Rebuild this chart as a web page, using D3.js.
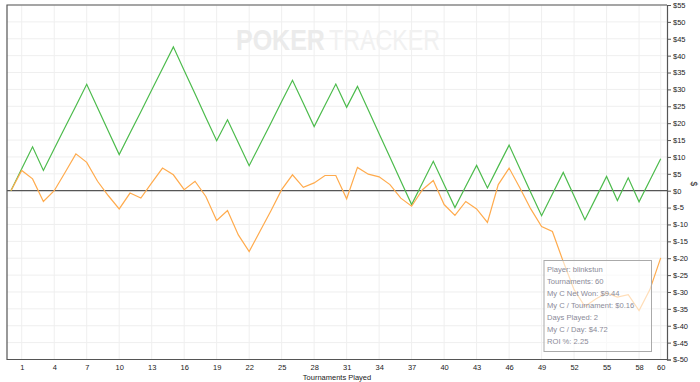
<!DOCTYPE html>
<html>
<head>
<meta charset="utf-8">
<script src="https://cdn.jsdelivr.net/npm/d3@7"></script>
<style>
	html, body { margin: 0; padding: 0; background: #fff; }
	#root { width: 700px; height: 382px; }
	text { font-family: "Liberation Sans", Arial, sans-serif; }
</style>
</head>
<body>
<div id="root"></div>
<script>
const tournaments = d3.range(0, 61);

const netWon = [
	0, 6.5, 13.0, 6.0, 12.4, 18.8, 25.1, 31.5, 24.6, 17.6,
	10.7, 17.1, 23.4, 29.8, 36.2, 42.6, 35.6, 28.7, 21.7, 14.8,
	21.0, 14.2, 7.4, 13.7, 20.0, 26.4, 32.7, 25.9, 19.0, 25.3,
	31.6, 24.7, 30.9, 23.9, 16.9, 9.9, 2.9, -4.1, 2.3, 8.7,
	1.8, -5.0, 1.3, 7.5, 0.8, 7.2, 13.5, 6.5, -0.5, -7.4,
	-1.0, 5.4, -1.6, -8.6, -2.2, 4.2, -2.9, 3.8, -3.3, 3.1,
	9.44
];

const allIn = [
	0, 6.0, 3.5, -3.2, 0.0, 5.4, 10.9, 8.4, 2.8, -1.5,
	-5.4, -0.7, -2.2, 2.3, 6.7, 4.7, 0.3, 2.8, -1.7, -8.8,
	-5.9, -13.1, -18.0, -12.0, -6.0, 0.3, 4.7, 1.0, 2.3, 4.5,
	4.5, -2.4, 6.9, 4.9, 4.1, 1.8, -2.2, -4.6, 0.3, 3.0,
	-4.1, -7.3, -3.2, -5.4, -9.4, 1.8, 6.7, 0.8, -5.4, -10.6,
	-12.1, -21.0, -29.3, -34.3, -32.1, -30.3, -31.5, -30.8, -35.5, -29.3,
	-19.9
];

const xTicks = [1, 4, 7, 10, 13, 16, 19, 22, 25, 28, 31, 34, 37, 40, 43, 46, 49, 52, 55, 58, 60];
const yTicks = d3.range(55, -51, -5);

const tooltipLines = [
	"Player: blinkstun",
	"Tournaments: 60",
	"My C Net Won: $9.44",
	"My C / Tournament: $0.16",
	"Days Played: 2",
	"My C / Day: $4.72",
	"ROI %: 2.25"
];

const size = { width: 700, height: 382 };
const plot = { left: 7, right: 667, top: 5, bottom: 359.5 };

const svg = d3.select("#root")
	.append("svg")
		.attr("width", size.width)
		.attr("height", size.height);

const x = d3.scaleLinear().domain([-0.36, 60.58]).range([plot.left, plot.right]);
const y = d3.scaleLinear().domain([-50, 55]).range([plot.bottom, plot.top]);

// grid
const grid = svg.append("g").attr("class", "grid");

grid.selectAll(".v")
	.data(xTicks).enter()
	.append("line")
		.attr("x1", d => x(d)).attr("x2", d => x(d))
		.attr("y1", plot.top).attr("y2", plot.bottom)
		.style("stroke", "#efefef");

grid.selectAll(".h")
	.data(yTicks).enter()
	.append("line")
		.attr("x1", plot.left).attr("x2", plot.right)
		.attr("y1", d => y(d)).attr("y2", d => y(d))
		.style("stroke", "#efefef");

// watermark
svg.append("text")
	.attr("transform", "translate(236,50) scale(1,1.2)")
	.style("font-size", "25px")
	.style("font-weight", "bold")
	.style("fill", "#ebebeb")
	.text("POKER");

svg.append("text")
	.attr("transform", "translate(329,50) scale(0.93,1.2)")
	.style("font-size", "25px")
	.style("fill", "#f1f1f1")
	.text("TRACKER");

// border
svg.append("path")
	.attr("d", `M${plot.right},${plot.top}H${plot.left}V${plot.bottom}H${plot.right}`)
	.style("fill", "none")
	.style("stroke", "#555")
	.style("stroke-width", 1.2);

// zero line
svg.append("line")
	.attr("x1", plot.left).attr("x2", plot.right)
	.attr("y1", y(0)).attr("y2", y(0))
	.style("stroke", "#555")
	.style("stroke-width", 1.2);

// series
const line = values => d3.line()
	.x(d => x(d))
	.y((d, i) => y(values[i]))(tournaments);

svg.append("path")
	.attr("d", line(netWon))
	.style("fill", "none")
	.style("stroke", "#4cbb4c")
	.style("stroke-width", 1.2);

svg.append("path")
	.attr("d", line(allIn))
	.style("fill", "none")
	.style("stroke", "#ffab4d")
	.style("stroke-width", 1.2);

// right axis
const yAxis = svg.append("g")
	.attr("transform", `translate(${plot.right},0)`)
	.call(d3.axisRight(y).tickValues(yTicks).tickSize(4).tickPadding(2).tickFormat(d => "$" + d));

yAxis.select(".domain").style("stroke", "#555").style("stroke-width", 1.2);
yAxis.selectAll(".tick line").style("stroke", "#555");
yAxis.selectAll(".tick text")
	.style("font-size", "7.5px")
	.style("fill", "#222")
	.style("font-family", "'Liberation Sans', Arial, sans-serif");

// bottom axis
const xAxis = svg.append("g")
	.attr("transform", `translate(0,${plot.bottom})`)
	.call(d3.axisBottom(x).tickValues(xTicks).tickSize(0).tickPadding(5));

xAxis.select(".domain").remove();
xAxis.selectAll(".tick text")
	.style("font-size", "7.5px")
	.style("fill", "#222")
	.style("font-family", "'Liberation Sans', Arial, sans-serif");

// axis titles
svg.append("text")
	.attr("x", (plot.left + plot.right) / 2)
	.attr("y", 380)
	.attr("text-anchor", "middle")
	.style("font-size", "7.5px")
	.style("fill", "#222")
	.text("Tournaments Played");

svg.append("text")
	.attr("transform", `translate(691,${y(2)}) rotate(90)`)
	.attr("text-anchor", "middle")
	.style("font-size", "8.5px")
	.style("fill", "#222")
	.text("$");

// info box
const box = svg.append("g").attr("transform", "translate(544,260.5)");

box.append("rect")
	.attr("width", 107.5)
	.attr("height", 91)
	.style("fill", "#fff")
	.style("fill-opacity", 0.6)
	.style("stroke", "#aaa");

box.selectAll(".info")
	.data(tooltipLines).enter()
	.append("text")
		.attr("x", 3)
		.attr("y", (d, i) => 11 + i * 12.1)
		.style("font-size", "7.6px")
		.style("fill", "#8a8a98")
		.text(d => d);
</script>
</body>
</html>
